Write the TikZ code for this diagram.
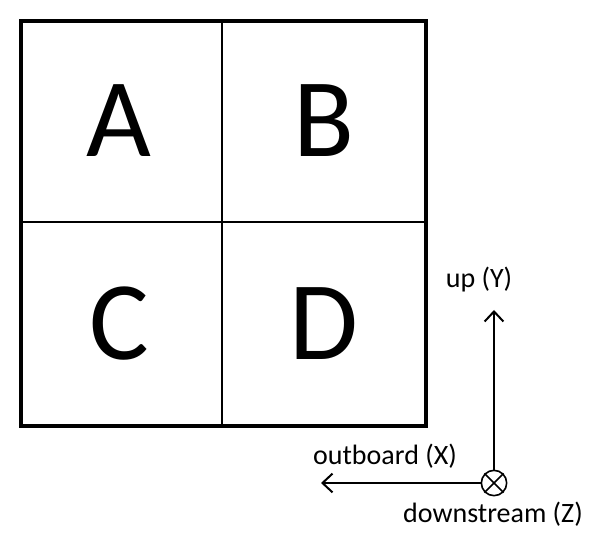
\documentclass[tikz,border=0pt]{standalone}
\usepackage{fontspec}
\setmainfont{Carlito}
\usetikzlibrary{arrows.meta}
\begin{document}
\begin{tikzpicture}[
    x=0.75pt,y=-0.75pt,
    >={Straight Barb[length=7.5pt,width=14pt]},
    cell/.style={font=\fontsize{84}{90}\selectfont,inner sep=0},
    lab/.style={font=\fontsize{21}{24}\selectfont,inner sep=0},
    axis/.style={->,line width=1.5pt},
    sym/.style={circle,draw,line width=1.2pt,inner sep=0,minimum size=19pt}
    ]
    \useasboundingbox (0,0) rectangle (600,545);

    % quadrants
    \draw[line width=1.5pt] (222,21) -- (222,426);
    \draw[line width=1.5pt] (21,222) -- (426,222);
    \draw[line width=3pt] (21,21) rectangle (426,426);

    % letters
    \node[cell] (A) at (119,121) {A};
    \node[cell] (B) at (324,121) {B};
    \node[cell] (C) at (119,324) {C};
    \node[cell] (D) at (324,324) {D};

    % axes
    \node[sym] (O) at (494,483) {};
    \draw[line width=1.2pt] (O.north east) -- (O.south west);
    \draw[line width=1.2pt] (O.north west) -- (O.south east);
    \coordinate (Y) at (494,310);
    \coordinate (X) at (321,483);
    \draw[axis] (O) -- (Y);
    \draw[axis] (O) -- (X);

    % axis labels
    \node[lab] at (479,280) {up (Y)};
    \node[lab] at (385,456) {outboard (X)};
    \node[lab] at (493,514) {downstream (Z)};
\end{tikzpicture}
\end{document}
